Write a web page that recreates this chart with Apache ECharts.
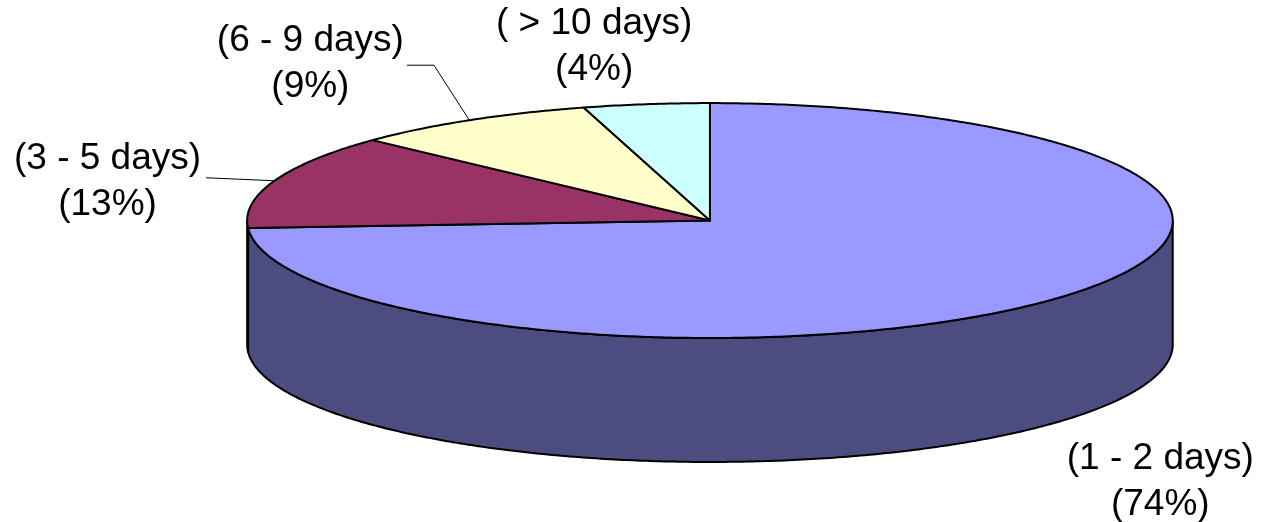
<!DOCTYPE html>
<html><head><meta charset="utf-8">
<script src="https://cdn.jsdelivr.net/npm/echarts@6/dist/echarts.min.js"></script>
<style>html,body{margin:0;padding:0;background:#fff}#c{width:1261px;height:522px}</style>
</head><body><div id="c"></div>
<script>
// ---- data ----
const categories = ['(1 - 2 days)', '(3 - 5 days)', '(6 - 9 days)', '( > 10 days)'];
const values = [74, 13, 8.6, 4.4];
// ---- styling / layout ----
const topColors = ['#9999FF', '#993366', '#FFFFCC', '#CCFFFF'];
const sideColors = ['#4C4C80', '#4D1A33', '#80806A', '#6A8080'];
const labelOffsets = [[113, 181], [-167, 1], [-159, -56], [-52, -57]]; // label block centre relative to slice mid-point on rim
const leaderStyle = [null, 'straight', 'elbow', null];
const FONT = '37px "Liberation Sans", Arial, sans-serif';
const LINE_H = 46;

const total = values.reduce((a, b) => a + b, 0);
const cum = [0];
values.forEach((v, i) => cum.push(cum[i] + v));

const measure = (function () {
  const ctx = document.createElement('canvas').getContext('2d');
  ctx.font = FONT;
  return t => ctx.measureText(t).width;
})();

function renderItem(params, api) {
  const i = params.dataIndex;
  const W = api.getWidth(), H = api.getHeight();
  const cx = W * 0.563, cy = H * 0.4225, rx = W * 0.367, ry = H * 0.225, depth = H * 0.2375;
  const t0 = cum[i] / total * 2 * Math.PI;
  const t1 = cum[i + 1] / total * 2 * Math.PI;
  const pt = (t, dy) => [cx + rx * Math.sin(t), cy - ry * Math.cos(t) + (dy || 0)];
  const arc = (a, b, dy) => {
    const n = Math.max(2, Math.ceil(Math.abs(b - a) / 0.01));
    const pts = [];
    for (let k = 0; k <= n; k++) pts.push(pt(a + (b - a) * k / n, dy));
    return pts;
  };
  const children = [];
  const stroke = { stroke: '#000', lineWidth: 2, lineJoin: 'round' };
  // visible side wall: t in [PI/2, 3PI/2]
  const a = Math.max(t0, Math.PI / 2), b = Math.min(t1, 3 * Math.PI / 2);
  if (b > a) {
    const pts = arc(a, b, 0).concat(arc(b, a, depth));
    children.push({ type: 'polygon', shape: { points: pts }, style: Object.assign({ fill: sideColors[i] }, stroke) });
  }
  // top face
  children.push({ type: 'polygon', shape: { points: [[cx, cy]].concat(arc(t0, t1, 0)) }, style: Object.assign({ fill: topColors[i] }, stroke) });
  // label
  const anchor = pt((t0 + t1) / 2, 0);
  const lx = anchor[0] + labelOffsets[i][0], ly = anchor[1] + labelOffsets[i][1];
  const pct = Math.round(values[i] / total * 100);
  const text = categories[i] + '\n(' + pct + '%)';
  children.push({
    type: 'text',
    style: { text: text, x: lx, y: ly, font: FONT, fill: '#000', align: 'center', verticalAlign: 'middle', lineHeight: LINE_H }
  });
  const halfW = measure(categories[i]) / 2;
  if (leaderStyle[i] === 'straight') {
    children.push({ type: 'polyline', shape: { points: [[lx + halfW + 5, ly - 4], anchor] }, style: { stroke: '#000', lineWidth: 1, fill: null } });
  } else if (leaderStyle[i] === 'elbow') {
    children.push({ type: 'polyline', shape: { points: [[lx + halfW + 3, ly + 1], [lx + halfW + 30, ly + 1], anchor] }, style: { stroke: '#000', lineWidth: 1, fill: null } });
  }
  return { type: 'group', children: children };
}

const chart = echarts.init(document.getElementById('c'), null, { renderer: 'canvas' });
chart.setOption({
  animation: false,
  backgroundColor: '#fff',
  series: [{
    type: 'custom',
    coordinateSystem: 'none',
    renderItem: renderItem,
    data: values.map((v, i) => ({ name: categories[i], value: v }))
  }]
});
</script></body></html>
